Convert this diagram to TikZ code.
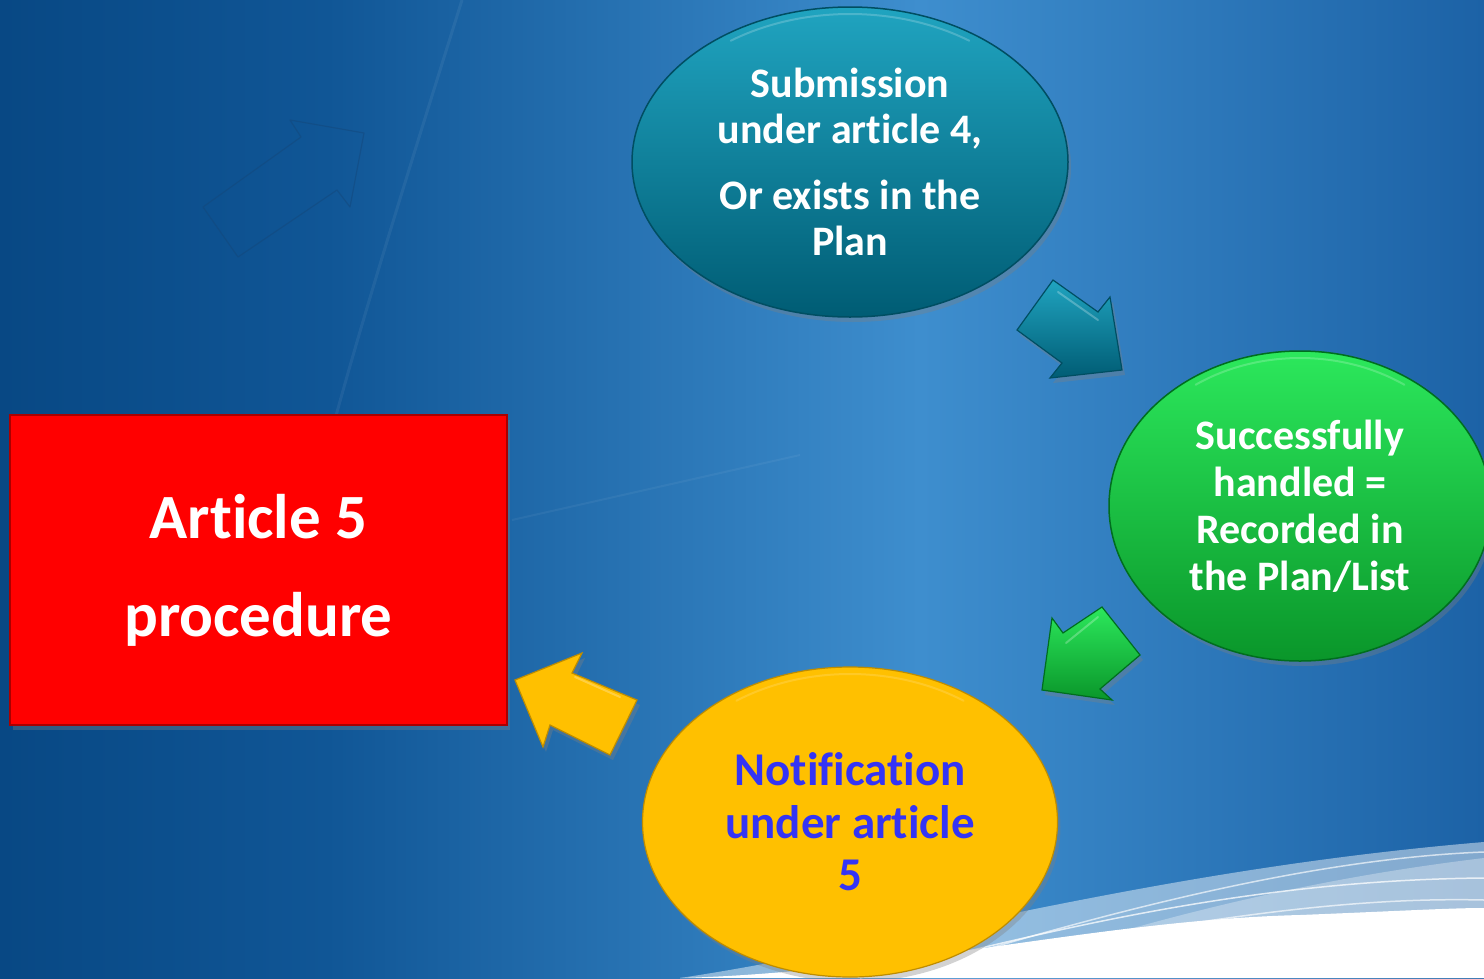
\documentclass[tikz,border=0pt]{standalone}
\usepackage{fontspec}
\setmainfont[Ligatures={NoCommon,NoContextual,NoRare},RawFeature={-liga;-clig;-calt;-dlig;-rlig}]{Carlito}
\usetikzlibrary{shapes.geometric,shadows}
\definecolor{bgA}{RGB}{8,72,132}
\definecolor{bgB}{RGB}{16,86,150}
\definecolor{bgC}{RGB}{62,142,206}
\definecolor{bgD}{RGB}{28,98,166}
\definecolor{bgLine}{RGB}{20,70,120}
\definecolor{tealT}{RGB}{32,164,192}
\definecolor{tealB}{RGB}{0,92,116}
\definecolor{tealD}{RGB}{0,78,98}
\definecolor{greenT}{RGB}{44,232,92}
\definecolor{greenB}{RGB}{10,150,42}
\definecolor{greenD}{RGB}{0,110,30}
\definecolor{yelF}{RGB}{255,192,0}
\definecolor{yelD}{RGB}{190,140,0}
\definecolor{redF}{RGB}{255,0,0}
\definecolor{redD}{RGB}{170,0,0}
\definecolor{notif}{RGB}{52,52,245}
\pgfdeclarehorizontalshading{bgshade}{100bp}{color(0bp)=(bgA); color(25bp)=(bgA); color(36bp)=(bgB); color(56bp)=(bgC); color(75bp)=(bgD); color(100bp)=(bgD)}
\tikzset{
  shad/.style={drop shadow={opacity=0.35, shadow xshift=3pt, shadow yshift=-5pt}},
  bubble/.style={ellipse, shad, align=center, inner sep=0pt},
  blockarrow/.style={line width=1.2pt, shad},
  gloss/.style={white, opacity=0.2, line width=2pt, line cap=round},
  shine/.style={white, opacity=0.25, line width=2pt, line cap=round}
}
\begin{document}
\begin{tikzpicture}[x=1pt,y=-1pt]
\useasboundingbox (0,0) rectangle (1484,978);
\clip (0,0) rectangle (1484,978);
% background
\shade[shading=bgshade] (0,0) rectangle (1484,978);
\draw[white, opacity=0.06, line width=3pt] (462,0) .. controls (390,230) and (330,420) .. (300,560);
\draw[white, opacity=0.05, line width=2pt] (512,520) -- (800,455);
% faint outline arrow
\draw[bgLine, opacity=0.45, line width=1.2pt, line join=round]
  (290,120) -- (301,137) -- (203,207) -- (238,257) -- (337,190) -- (350,207) -- (364,133) -- cycle;
% bottom-right wave
\fill[white, opacity=0.45] (680,978) .. controls (900,945) and (1150,870) .. (1484,842) -- (1484,978) -- cycle;
\fill[white, opacity=0.30] (1000,968) .. controls (1150,920) and (1300,880) .. (1484,858) -- (1484,978) -- cycle;
\draw[white, opacity=0.75, line width=1.5pt] (860,978) .. controls (1050,930) and (1250,880) .. (1484,878);
\draw[white, opacity=0.65, line width=1.5pt] (950,960) .. controls (1150,900) and (1330,858) .. (1484,852);
\draw[white, opacity=0.65, line width=1.5pt] (1150,930) .. controls (1300,905) and (1400,898) .. (1484,900);
\fill[white] (680,978) .. controls (900,972) and (1100,920) .. (1300,915) .. controls (1400,911) and (1450,908) .. (1484,908) -- (1484,978) -- cycle;

% nodes
\node[bubble, draw=tealD, line width=1.5pt, top color=tealT, bottom color=tealB,
      minimum width=436pt, minimum height=310pt, text=white,
      font=\fontsize{42}{46}\selectfont\bfseries] (sub) at (850,162)
  {Submission\\under article 4,\\[20pt]Or exists in the\\Plan};
\node[bubble, draw=greenD, line width=1.5pt, top color=greenT, bottom color=greenB,
      minimum width=382pt, minimum height=310pt, text=white,
      font=\fontsize{42}{47}\selectfont\bfseries] (suc) at (1300,506)
  {Successfully\\handled =\\Recorded in\\the Plan/List};
\node[bubble, draw=yelD, line width=1.2pt, fill=yelF,
      minimum width=415pt, minimum height=310pt, text=notif,
      font=\fontsize{47}{52.5}\selectfont\bfseries] (not) at (850,822)
  {Notification\\under article\\5};
\node[rectangle, draw=redD, line width=1.5pt, fill=redF, shad,
      minimum width=497pt, minimum height=310pt, text=white, align=center,
      font=\fontsize{63}{98}\selectfont\bfseries] (art) at (258.5,570)
  {Article 5\\procedure};

% gloss highlights
\draw[gloss] (sub.center) ++(235:208 and 148) arc[start angle=235, end angle=305, x radius=208, y radius=148];
\draw[gloss] (suc.center) ++(235:182 and 148) arc[start angle=235, end angle=305, x radius=182, y radius=148];
\draw[gloss, opacity=0.15] (not.center) ++(235:198 and 148) arc[start angle=235, end angle=305, x radius=198, y radius=148];

% block arrows between the steps
\path[blockarrow, draw=tealD, top color=tealT, bottom color=tealB]
  (1053,280) -- (1098,312) -- (1110,297) -- (1122,370) -- (1050,378) -- (1062,363) -- (1017,330) -- cycle;
\draw[shine] (1058,292) -- (1098,320);
\path[blockarrow, draw=greenD, top color=greenT, bottom color=greenB]
  (1102,607) -- (1140,655) -- (1100,689) -- (1112,700) -- (1042,690) -- (1052,618) -- (1063,633) -- cycle;
\draw[shine] (1066,643) -- (1098,617);
\path[blockarrow, draw=yelD, fill=yelF]
  (515,680) -- (582,653) -- (572,673) -- (637,700) -- (610,755) -- (550,725) -- (543,747) -- cycle;
\draw[shine] (575,677) -- (620,697);
\end{tikzpicture}
\end{document}
